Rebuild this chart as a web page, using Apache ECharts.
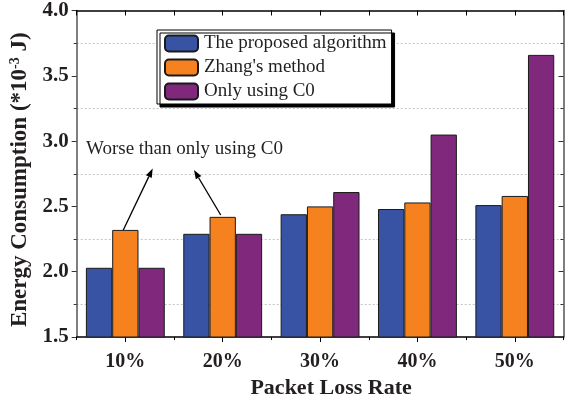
<!DOCTYPE html>
<html>
<head>
<meta charset="utf-8">
<script src="https://cdn.jsdelivr.net/npm/echarts@6/dist/echarts.min.js"></script>
<style>
  html, body { margin: 0; padding: 0; background: #fff; }
  #chart { width: 565px; height: 404px; }
</style>
</head>
<body>
<div id="chart"></div>
<script>
// Packet loss rates on the category axis
const categories = ['10%', '20%', '30%', '40%', '50%'];

// Energy consumption (×10^-3 J) per method
const proposed = [2.03, 2.29, 2.44, 2.48, 2.51];
const zhang    = [2.32, 2.42, 2.50, 2.53, 2.58];
const onlyC0   = [2.03, 2.29, 2.61, 3.05, 3.66];

const seriesNames = ['The proposed algorithm', "Zhang's method", 'Only using C0'];
const colors = ['#3953A4', '#F5821F', '#7F287C'];

const yMin = 1.5, yMax = 4.0, yStep = 0.5;

const serif = 'Liberation Serif, Times New Roman, serif';
const ink = '#231F20';

const chart = echarts.init(document.getElementById('chart'), null, { renderer: 'canvas' });

const gridBox = { left: 73.5, top: 10, width: 490, height: 333 };

function catAxis(opts) {
  return Object.assign({
    type: 'category',
    data: categories,
    gridIndex: 0,
    axisLine: { show: false },
    axisLabel: { show: false },
    axisTick: { show: false },
    splitLine: { show: false }
  }, opts);
}

const option = {
  animation: false,
  backgroundColor: '#fff',
  grid: gridBox,
  legend: {
    orient: 'vertical',
    left: 157,
    top: 30,
    itemWidth: 33,
    itemHeight: 16,
    itemGap: 5,
    padding: [4, 5, 3, 7],
    backgroundColor: '#fff',
    borderColor: '#000',
    borderWidth: 1,
    borderRadius: 0,
    shadowColor: '#000',
    shadowBlur: 0,
    shadowOffsetX: 3,
    shadowOffsetY: 3,
    textStyle: { fontFamily: serif, fontSize: 19, color: ink, lineHeight: 19, padding: [0, 0, 0, 1] },
    data: seriesNames
  },
  xAxis: [
    // main bottom axis: labels, centre ticks
    catAxis({
      position: 'bottom',
      axisLine: { show: true, onZero: false, lineStyle: { color: '#000', width: 1.5 } },
      axisTick: { show: true, alignWithLabel: true, inside: false, length: 5, lineStyle: { color: '#000', width: 1 } },
      axisLabel: { show: true, margin: 15, fontFamily: serif, fontWeight: 'bold', fontSize: 20, color: ink },
      name: 'Packet Loss Rate',
      nameLocation: 'middle',
      nameGap: 40,
      nameTextStyle: { fontFamily: serif, fontWeight: 'bold', fontSize: 22, color: ink, padding: [0, 0, 0, 22] }
    }),
    // bottom boundary ticks
    catAxis({
      position: 'bottom',
      axisTick: { show: true, inside: false, length: 3, lineStyle: { color: '#000', width: 1 } }
    }),
    // top frame with centre ticks
    catAxis({
      position: 'top',
      axisLine: { show: true, onZero: false, lineStyle: { color: '#000', width: 1.5 } },
      axisTick: { show: true, alignWithLabel: true, inside: true, length: 5, lineStyle: { color: '#000', width: 1 } }
    }),
    // top boundary ticks
    catAxis({
      position: 'top',
      axisTick: { show: true, inside: true, length: 5, lineStyle: { color: '#000', width: 1 } }
    })
  ],
  yAxis: [
    {
      type: 'value',
      min: yMin, max: yMax, interval: yStep,
      position: 'left',
      axisLine: { show: true, onZero: false, lineStyle: { color: '#555', width: 1.5 } },
      axisTick: { show: true, inside: false, length: 5, lineStyle: { color: '#333', width: 1 } },
      minorTick: { show: true, splitNumber: 2, length: 3, lineStyle: { color: '#333', width: 1 } },
      splitLine: { show: false },
      minorSplitLine: { show: true, lineStyle: { color: '#c4c4c4', width: 1, type: [2, 2] } },
      axisLabel: {
        margin: 8, fontFamily: serif, fontWeight: 'bold', fontSize: 21, color: ink,
        formatter: v => v.toFixed(1)
      },
      name: 'Energy Consumption (*10{sup|-3} J)',
      nameLocation: 'middle',
      nameGap: 38,
      nameTextStyle: {
        fontFamily: serif, fontWeight: 'bold', fontSize: 23, color: ink,
        padding: [0, 12, 0, 0],
        rich: {
          sup: { fontFamily: serif, fontWeight: 'bold', fontSize: 14, color: ink, verticalAlign: 'top', padding: [0, 0, 10, 0] }
        }
      }
    },
    {
      type: 'value',
      min: yMin, max: yMax, interval: yStep,
      position: 'right',
      axisLine: { show: true, onZero: false, lineStyle: { color: '#555', width: 1.5 } },
      axisTick: { show: true, inside: true, length: 5, lineStyle: { color: '#333', width: 1 } },
      minorTick: { show: true, splitNumber: 2, length: 3, lineStyle: { color: '#333', width: 1 } },
      splitLine: { show: false },
      axisLabel: { show: false }
    }
  ],
  series: [
    { name: seriesNames[0], data: proposed },
    { name: seriesNames[1], data: zhang },
    { name: seriesNames[2], data: onlyC0 }
  ].map((s, i) => ({
    type: 'bar',
    name: s.name,
    data: s.data,
    xAxisIndex: 0,
    yAxisIndex: 0,
    barGap: '0%',
    barCategoryGap: '19%',
    itemStyle: { color: colors[i], borderColor: '#1a1a1a', borderWidth: 1 },
    emphasis: { disabled: true }
  }))
};

chart.setOption(option);

// Annotation: note text with two arrows pointing to it
const noteText = 'Worse than only using C0';
const arrows = [
  { from: [123.3, 230], to: [152.7, 168.5] },
  { from: [220.7, 215], to: [194, 170] }
];

function arrowShapes(a) {
  const [x1, y1] = a.from, [x2, y2] = a.to;
  const ang = Math.atan2(y2 - y1, x2 - x1);
  const len = 9, half = 3.2;
  const bx = x2 - len * Math.cos(ang), by = y2 - len * Math.sin(ang);
  const px = -Math.sin(ang) * half, py = Math.cos(ang) * half;
  return [
    { type: 'line', silent: true, shape: { x1, y1, x2: bx, y2: by }, style: { stroke: '#000', lineWidth: 1.3 } },
    { type: 'polygon', silent: true, shape: { points: [[x2, y2], [bx + px, by + py], [bx - px, by - py]] }, style: { fill: '#000' } }
  ];
}

chart.setOption({
  graphic: [
    {
      type: 'text', silent: true, left: 86, top: 140,
      style: { text: noteText, font: '19px ' + serif, fill: ink }
    }
  ].concat(...arrows.map(arrowShapes))
});
</script>
</body>
</html>
